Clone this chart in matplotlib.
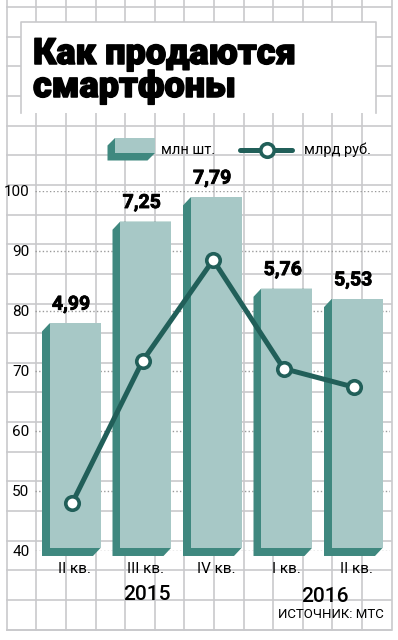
import numpy as np
import matplotlib
matplotlib.use("Agg")
import matplotlib.pyplot as plt
import matplotlib.patheffects as pe
from matplotlib.patches import Polygon, Rectangle

plt.rcParams["font.family"] = ["Roboto", "DejaVu Sans"]

# data
quarters = ["II кв.", "III кв.", "IV кв.", "I кв.", "II кв."]
units_mln = [4.99, 7.25, 7.79, 5.76, 5.53]        # млн шт. (bars)
revenue_bln = [48.0, 71.7, 88.5, 70.4, 67.3]      # млрд руб. (line)
unit_labels = ["4,99", "7,25", "7,79", "5,76", "5,53"]
years = ["2015", "2016"]
y_ticks = [40, 50, 60, 70, 80, 90, 100]

LIGHT = "#a7c8c6"
SIDE = "#3f887f"
LINE = "#215f59"
GRID = "#c9c9cc"

W, H = 398, 640
fig = plt.figure(figsize=(W / 100, H / 100), dpi=100)

# background sheet with squared grid, pixel coordinates
bg = fig.add_axes([0, 0, 1, 1])
bg.set_xlim(0, W)
bg.set_ylim(H, 0)
bg.axis("off")
gx = np.arange(6.7, 392, 29.6)
gy = np.arange(7, 632, 29.65)
for x in gx:
    bg.plot([x, x], [0, 630], color=GRID, lw=1.2, zorder=0)
for y in gy:
    bg.plot([6.7, 390.5], [y, y], color=GRID, lw=1.2, zorder=0)
bg.plot([6.7, 390.5], [630, 630], color=GRID, lw=1.2, zorder=0)

# title box
bg.add_patch(Rectangle((20.7, 21.7), 355, 91, facecolor="white", edgecolor="none", zorder=1))
bg.plot([20.7, 20.7, 375.7, 375.7], [112.7, 21.7, 21.7, 112.7], color=GRID, lw=1.2, zorder=1)
heavy = [pe.withStroke(linewidth=1.1, foreground="black")]
bg.text(33, 64, "Как продаются", fontsize=26, fontweight="black", va="baseline", ha="left",
        zorder=2, path_effects=heavy)
bg.text(33, 97, "смартфоны", fontsize=26, fontweight="black", va="baseline", ha="left",
        zorder=2, path_effects=heavy)

# legend
d = 7.5
x0, x1, t, b = 115, 155, 138, 153
bg.add_patch(Polygon([(x0 - d, t + d), (x0, t), (x1, t), (x1, b), (x1 - d, b + d), (x0 - d, b + d)],
                     closed=True, facecolor=SIDE, edgecolor="none", zorder=2))
bg.add_patch(Rectangle((x0, t), x1 - x0, b - t, facecolor=LIGHT, edgecolor="none", zorder=3))
bg.text(161, 150, "млн шт.", fontsize=10.5, va="center", ha="left", zorder=3)
bg.plot([240, 292], [150, 150], color=LINE, lw=3.6, solid_capstyle="round", zorder=3)
bg.plot([267], [150], marker="o", ms=9.7, mfc="white", mec=LINE, mew=2.6, zorder=4)
bg.text(304, 150, "млрд руб.", fontsize=10.5, va="center", ha="left", zorder=3)

# year and source labels
bg.text(147, 594, years[0], fontsize=15, fontweight="medium", ha="center", va="center")
bg.text(325, 597, years[1], fontsize=15, fontweight="medium", ha="center", va="center")
bg.text(331, 615, "ИСТОЧНИК: МТС", fontsize=9.5, ha="center", va="center")

# main axes
left, right, top_px, bot_px = 35, 390, 191, 551
rect = [left / W, 1 - bot_px / H, (right - left) / W, (bot_px - top_px) / H]
ax = fig.add_axes(rect)
ax.patch.set_visible(False)
x = np.arange(len(quarters))
step = 70.5
ax.set_xlim((left - 75) / step, (right - 75) / step)
ax.set_ylim(40, 100)
ax.set_yticks(y_ticks)
ax.set_xticks(x)
ax.set_xticklabels(quarters)
ax.tick_params(length=0, labelsize=11, pad=4)
ax.tick_params(axis="x", pad=8)
ax.grid(axis="y", linestyle=(0, (1, 1.6)), color="#9a9a9a", lw=1.0)
for s in ax.spines.values():
    s.set_visible(False)

# bars on twin axis (million units)
ax2 = ax.twinx()
ax2.set_ylim(-0.067, 8 - 0.067)
ax2.axis("off")
bw = 51 / step
dx = 7.5 / step
dy = 8 / 45
for xi, v, lab in zip(x, units_mln, unit_labels):
    a, c = xi - bw / 2, xi + bw / 2
    ax2.add_patch(Polygon([(a - dx, v - dy), (a, v), (c, v), (c, 0), (c - dx, -dy), (a - dx, -dy)],
                          closed=True, facecolor=SIDE, edgecolor="none", clip_on=False, zorder=1))
    ax2.annotate(lab, (xi - dx / 2, v), xytext=(0, 7), textcoords="offset points",
                 ha="center", va="bottom", fontsize=14, fontweight="bold", annotation_clip=False,
                 path_effects=[pe.withStroke(linewidth=0.6, foreground="black")])
ax2.bar(x, units_mln, width=bw, color=LIGHT, zorder=2, clip_on=False)

# revenue line on top
ax3 = ax.twinx()
ax3.set_ylim(40, 100)
ax3.axis("off")
ax3.plot(x - 0.04, revenue_bln, color=LINE, lw=3.6, marker="o", ms=9.7,
         mfc="white", mec=LINE, mew=2.6, clip_on=False)

fig.savefig("out.png", dpi=100)
